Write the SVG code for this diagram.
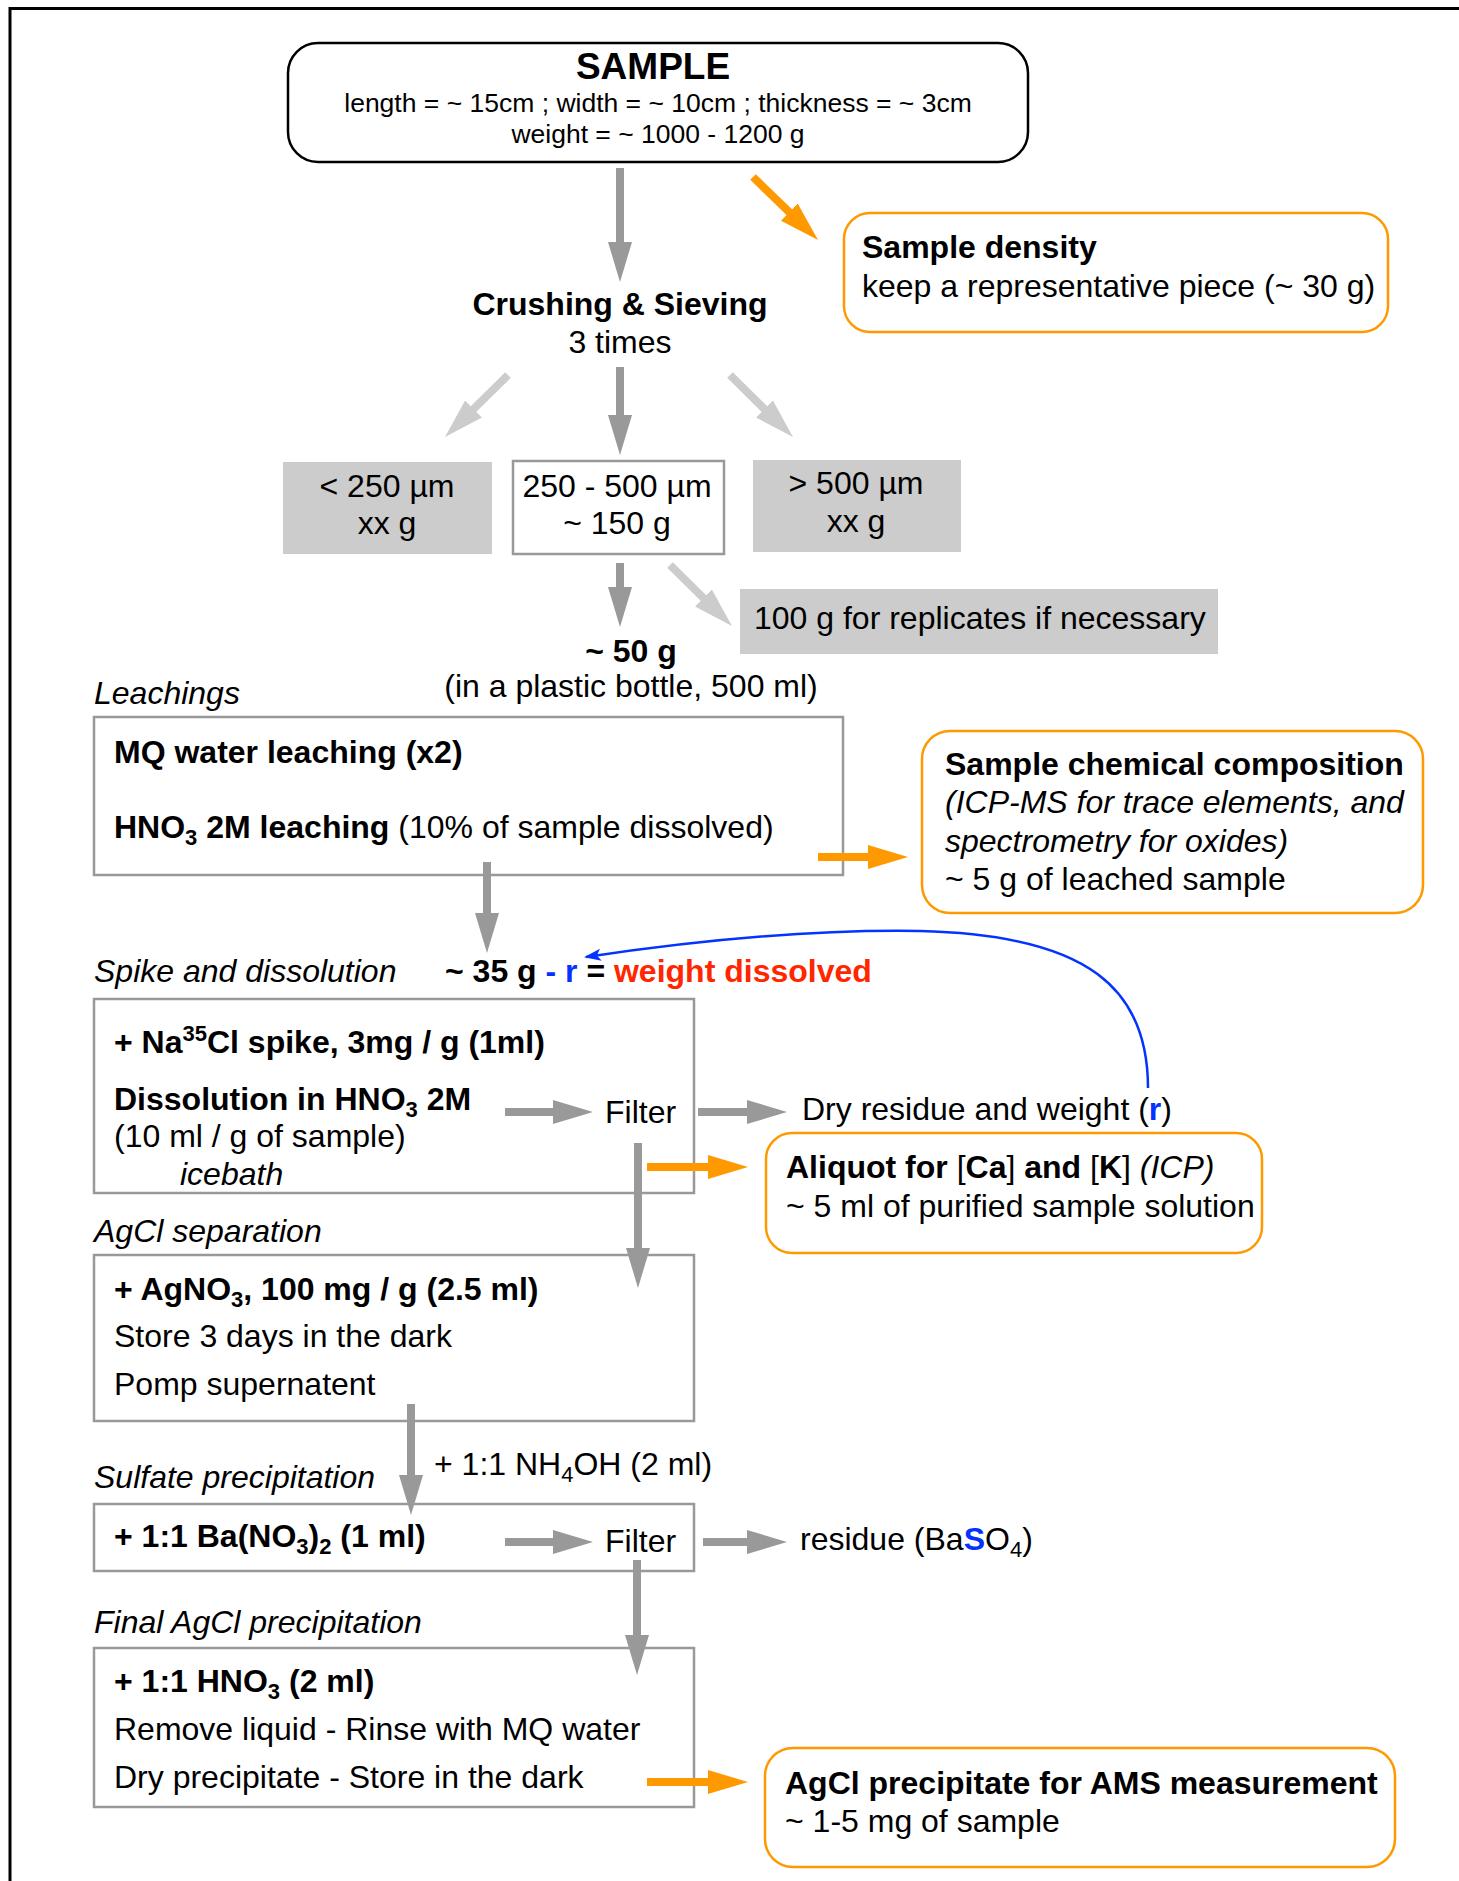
<svg xmlns="http://www.w3.org/2000/svg" width="1459" height="1881" viewBox="0 0 1459 1881">
<style>
text { font-family: "Liberation Sans", Arial, Helvetica, sans-serif; font-size: 32px; fill: #000; }
.b { font-weight: bold; }
.i { font-style: italic; }
.m { text-anchor: middle; }
.box { fill: #fff; stroke: #999; stroke-width: 2.5; }
.gbox { fill: #ccc; stroke: none; }
.obox { fill: #fff; stroke: #f90; stroke-width: 2.5; }
.ag { stroke: #999; stroke-width: 8; fill: none; marker-end: url(#hg); }
.al { stroke: #ccc; stroke-width: 8; fill: none; marker-end: url(#hl); }
.ao { stroke: #f90; stroke-width: 8; fill: none; marker-end: url(#ho); }
.ab { stroke: #0433ff; stroke-width: 2.5; fill: none; marker-end: url(#hb); }
.blue { fill: #0433ff; font-weight: bold; }
.red { fill: #ff2600; font-weight: bold; }
</style>
<defs>
<marker id="hg" markerUnits="userSpaceOnUse" markerWidth="42" markerHeight="26" refX="10" refY="13" orient="auto" viewBox="0 0 42 26"><path d="M0,1 L40,13 L0,25 Z" fill="#999"/></marker>
<marker id="hl" markerUnits="userSpaceOnUse" markerWidth="42" markerHeight="26" refX="10" refY="13" orient="auto" viewBox="0 0 42 26"><path d="M0,1 L40,13 L0,25 Z" fill="#ccc"/></marker>
<marker id="ho" markerUnits="userSpaceOnUse" markerWidth="42" markerHeight="26" refX="10" refY="13" orient="auto" viewBox="0 0 42 26"><path d="M0,1 L40,13 L0,25 Z" fill="#f90"/></marker>
<marker id="hb" markerUnits="userSpaceOnUse" markerWidth="18" markerHeight="14" refX="15" refY="7" orient="auto" viewBox="0 0 18 14"><path d="M0,1 L17,7 L0,13 L4,7 Z" fill="#0433ff"/></marker>
</defs>
<rect width="1459" height="1881" fill="#fff"/>
<path d="M10,1881 L10,8.5 L1459,8.5" fill="none" stroke="#000" stroke-width="3"/>

<g id="sample">
<rect x="288" y="43" width="740" height="119" rx="30" ry="30" fill="#fff" stroke="#000" stroke-width="2.5"/>
<text class="b m" x="653" y="79" style="font-size:37px">SAMPLE</text>
<text class="m" x="658" y="112" style="font-size:26.5px">length = ~ 15cm ; width = ~ 10cm ; thickness = ~ 3cm</text>
<text class="m" x="658" y="143" style="font-size:26.5px">weight = ~ 1000 - 1200 g</text>
</g>

<g id="density">
<rect x="844" y="213" width="544" height="119" rx="26" ry="26" class="obox"/>
<text class="b" x="862" y="258">Sample density</text>
<text x="862" y="297">keep a representative piece (~ 30 g)</text>
</g>

<g id="crushing">
<text class="b m" x="620" y="315">Crushing &amp; Sieving</text>
<text class="m" x="620" y="353">3 times</text>
</g>

<g id="fine">
<rect x="283" y="462" width="209" height="92" class="gbox"/>
<text class="m" x="387" y="497">&lt; 250 µm</text>
<text class="m" x="387" y="534">xx g</text>
</g>

<g id="middle">
<rect x="513" y="461" width="211" height="93" class="box"/>
<text class="m" x="617" y="497">250 - 500 µm</text>
<text class="m" x="617" y="534">~ 150 g</text>
</g>

<g id="coarse">
<rect x="753" y="460" width="208" height="92" class="gbox"/>
<text class="m" x="856" y="494">&gt; 500 µm</text>
<text class="m" x="856" y="532">xx g</text>
</g>

<g id="replicates">
<rect x="740" y="589" width="478" height="65" class="gbox"/>
<text x="754" y="629">100 g for replicates if necessary</text>
</g>

<g id="fifty">
<text class="b m" x="631" y="662">~ 50 g</text>
<text class="m" x="631" y="697">(in a plastic bottle, 500 ml)</text>
</g>

<g id="leachings">
<text class="i" x="94" y="704">Leachings</text>
<rect x="94" y="717" width="749" height="158" class="box"/>
<text class="b" x="114" y="763">MQ water leaching (x2)</text>
<text x="114" y="838"><tspan class="b">HNO<tspan dy="7" style="font-size:22px">3</tspan><tspan dy="-7"> 2M leaching</tspan></tspan> (10% of sample dissolved)</text>
</g>

<g id="chemical">
<rect x="922" y="731" width="501" height="182" rx="28" ry="28" class="obox"/>
<text class="b" x="945" y="775">Sample chemical composition</text>
<text class="i" x="945" y="813">(ICP-MS for trace elements, and</text>
<text class="i" x="945" y="852">spectrometry for oxides)</text>
<text x="945" y="890">~ 5 g of leached sample</text>
</g>

<g id="spike">
<text class="i" x="94" y="982">Spike and dissolution</text>
<text class="b" x="445" y="982">~ 35 g <tspan class="blue">- r</tspan> = <tspan class="red">weight dissolved</tspan></text>
<rect x="94" y="999" width="600" height="194" class="box"/>
<text class="b" x="114" y="1053">+ Na<tspan dy="-12" style="font-size:22px">35</tspan><tspan dy="12">Cl spike, 3mg / g (1ml)</tspan></text>
<text class="b" x="114" y="1110">Dissolution in HNO<tspan dy="7" style="font-size:22px">3</tspan><tspan dy="-7"> 2M</tspan></text>
<text x="114" y="1147">(10 ml / g of sample)</text>
<text class="i" x="180" y="1185">icebath</text>
<text x="605" y="1123">Filter</text>
</g>

<g id="dryresidue">
<text x="802" y="1120">Dry residue and weight (<tspan class="blue">r</tspan>)</text>
</g>

<g id="aliquot">
<rect x="766" y="1133" width="496" height="120" rx="26" ry="26" class="obox"/>
<text x="786" y="1178"><tspan class="b">Aliquot for </tspan>[<tspan class="b">Ca</tspan>]<tspan class="b"> and </tspan>[<tspan class="b">K</tspan>]<tspan class="i"> (ICP)</tspan></text>
<text x="786" y="1217">~ 5 ml of purified sample solution</text>
</g>

<g id="agcl">
<text class="i" x="94" y="1242">AgCl separation</text>
<rect x="94" y="1255" width="600" height="166" class="box"/>
<text class="b" x="114" y="1300">+ AgNO<tspan dy="7" style="font-size:22px">3</tspan><tspan dy="-7">, 100 mg / g (2.5 ml)</tspan></text>
<text x="114" y="1347">Store 3 days in the dark</text>
<text x="114" y="1395">Pomp supernatent</text>
</g>

<g id="nh4oh">
<text x="434" y="1475">+ 1:1 NH<tspan dy="7" style="font-size:22px">4</tspan><tspan dy="-7">OH (2 ml)</tspan></text>
</g>

<g id="sulfate">
<text class="i" x="94" y="1488">Sulfate precipitation</text>
<rect x="94" y="1504" width="600" height="67" class="box"/>
<text class="b" x="114" y="1547">+ 1:1 Ba(NO<tspan dy="7" style="font-size:22px">3</tspan><tspan dy="-7">)</tspan><tspan dy="7" style="font-size:22px">2</tspan><tspan dy="-7"> (1 ml)</tspan></text>
<text x="605" y="1552">Filter</text>
</g>

<g id="residue">
<text x="800" y="1550">residue (Ba<tspan class="blue">S</tspan>O<tspan dy="7" style="font-size:22px">4</tspan><tspan dy="-7">)</tspan></text>
</g>

<g id="final">
<text class="i" x="94" y="1633">Final AgCl precipitation</text>
<rect x="94" y="1648" width="600" height="159" class="box"/>
<text class="b" x="114" y="1692">+ 1:1 HNO<tspan dy="7" style="font-size:22px">3</tspan><tspan dy="-7"> (2 ml)</tspan></text>
<text x="114" y="1740">Remove liquid - Rinse with MQ water</text>
<text x="114" y="1788">Dry precipitate - Store in the dark</text>
</g>

<g id="ams">
<rect x="765" y="1748" width="630" height="119" rx="28" ry="28" class="obox"/>
<text class="b" x="785" y="1794">AgCl precipitate for AMS measurement</text>
<text x="785" y="1832">~ 1-5 mg of sample</text>
</g>

<g id="connectors">
<line class="ag" x1="620" y1="168" x2="620" y2="252"/>
<line class="ao" x1="753" y1="177" x2="796.5" y2="219.1"/>
<line class="ag" x1="620" y1="367" x2="620" y2="425"/>
<line class="al" x1="508" y1="375" x2="466.4" y2="416"/>
<line class="al" x1="730" y1="375" x2="771.6" y2="416"/>
<line class="ag" x1="620" y1="563" x2="620" y2="597"/>
<line class="al" x1="670" y1="565" x2="710.6" y2="605"/>
<line class="ag" x1="487" y1="862" x2="487" y2="923"/>
<line class="ao" x1="818" y1="857" x2="878" y2="857"/>
<line class="ag" x1="505" y1="1112" x2="563" y2="1112"/>
<line class="ag" x1="698" y1="1112" x2="757" y2="1112"/>
<line class="ag" x1="638" y1="1143" x2="638" y2="1258"/>
<line class="ao" x1="647" y1="1167" x2="718" y2="1167"/>
<line class="ag" x1="411" y1="1404" x2="411" y2="1485"/>
<line class="ag" x1="505" y1="1542" x2="563" y2="1542"/>
<line class="ag" x1="703" y1="1542" x2="757" y2="1542"/>
<line class="ag" x1="637" y1="1560" x2="637" y2="1645"/>
<line class="ao" x1="647" y1="1782" x2="718" y2="1782"/>
<path class="ab" d="M1148,1088 C1148,990 1090,935 920,931 C800,929 680,943 586,957"/>
</g>
</svg>
